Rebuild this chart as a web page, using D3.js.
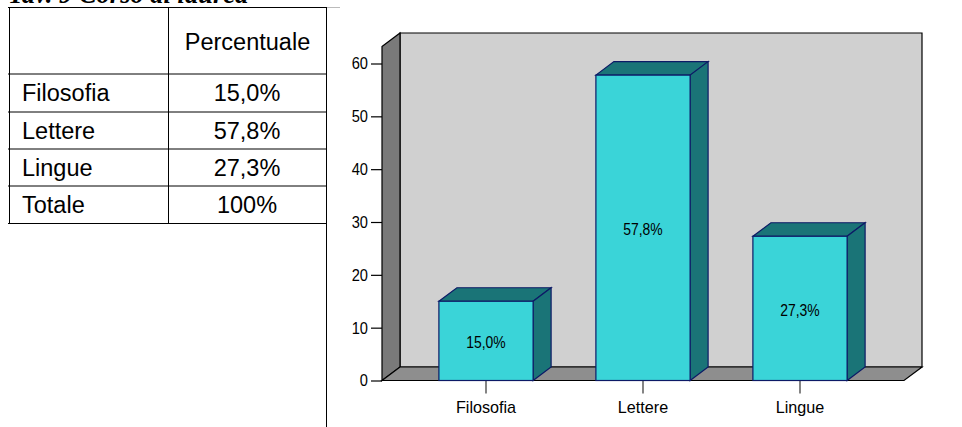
<!DOCTYPE html>
<html><head><meta charset="utf-8">
<script src="https://cdn.jsdelivr.net/npm/d3@7"></script>
<style>html,body{margin:0;padding:0;background:#fff}svg{display:block}text{font-family:"Liberation Sans",Arial,sans-serif;fill:#000}</style>
</head><body><svg id="c" width="962" height="427"></svg>
<script>
const categories = ["Filosofia","Lettere","Lingue"];
const values = [15.0,57.8,27.3];
const valueLabels = ["15,0%","57,8%","27,3%"];
const yTicks = [0,10,20,30,40,50,60];
const tableHeader = ["","Percentuale"];
const tableRows = [["Filosofia","15,0%"],["Lettere","57,8%"],["Lingue","27,3%"],["Totale","100%"]];
const title = "Tav. 9 Corso di laurea";

const svg = d3.select("#c");
const dx=18, dy=13.5;
const y = d3.scaleLinear().domain([0,60]).range([380.5,63.5]);
const x = d3.scaleBand().domain(categories).range([407.5,878.5]).paddingInner(0.4).paddingOuter(0.2);
const L=382, R=904, B=y(0), T=46.5;
const path = p => "M"+p.map(a=>a.join(",")).join("L")+"Z";

// Table
svg.append("text").attr("x",8).attr("y",3).attr("font-size",26.5).attr("font-style","italic").attr("font-weight","bold").style("font-family","Liberation Serif").text(title);
const rowY=[7.5,74,112,149,186,223.5];
const tl = svg.append("g").attr("stroke","#000").attr("stroke-width",1);
rowY.forEach(v=>tl.append("line").attr("x1",8).attr("x2",327).attr("y1",v).attr("y2",v));
tl.append("line").attr("x1",9.5).attr("x2",9.5).attr("y1",7).attr("y2",224);
tl.append("line").attr("x1",168.5).attr("x2",168.5).attr("y1",7).attr("y2",224);
tl.append("line").attr("x1",326.5).attr("x2",326.5).attr("y1",7).attr("y2",427);
svg.append("line").attr("x1",327).attr("x2",340).attr("y1",7.5).attr("y2",7.5).attr("stroke","#bbb");
svg.append("text").attr("x",247.5).attr("y",50).attr("text-anchor","middle").attr("font-size",23.5).text(tableHeader[1]);
const baselines=[101,139,176,213];
tableRows.forEach((r,i)=>{
  svg.append("text").attr("x",22).attr("y",baselines[i]).attr("font-size",23.5).text(r[0]);
  svg.append("text").attr("x",247).attr("y",baselines[i]).attr("text-anchor","middle").attr("font-size",23.5).text(r[1]);
});

// 3D walls
const K="#000";
svg.append("path").attr("d",path([[L+dx,T-dy],[R+dx,T-dy],[R+dx,B-dy],[L+dx,B-dy]])).attr("fill","#d0d0d0").attr("stroke",K).attr("stroke-width",1.2);
svg.append("path").attr("d",path([[L,T],[L+dx,T-dy],[L+dx,B-dy],[L,B]])).attr("fill","#7a7a7a").attr("stroke",K).attr("stroke-width",1.2);
svg.append("path").attr("d",path([[L,B],[L+dx,B-dy],[R+dx,B-dy],[R,B]])).attr("fill","#8e8e8e").attr("stroke",K).attr("stroke-width",1.2);

// Condense label glyphs to the reference's narrow setting
const narrow = (sel,fs,ratio)=>sel.attr("font-size",fs).each(function(){
  const n=this.getComputedTextLength();
  d3.select(this).attr("textLength",n*ratio).attr("lengthAdjust","spacingAndGlyphs");
});

// Axes
const yAxis = d3.axisLeft(y).tickValues(yTicks).tickSize(11).tickPadding(3).tickFormat(d3.format("d"));
const ga = svg.append("g").attr("transform",`translate(${L},0)`).call(yAxis);
ga.select(".domain").remove();
narrow(ga.selectAll("text"),17,0.86);
ga.selectAll("line").attr("stroke",K).attr("stroke-width",1.2);
const xAxis = d3.axisBottom(x).tickSize(13).tickPadding(7);
const gx = svg.append("g").attr("transform",`translate(0,${B})`).call(xAxis);
gx.select(".domain").remove();
narrow(gx.selectAll("text"),17,0.95);
gx.selectAll("line").attr("stroke","#333").attr("stroke-width",1.2);

// Bars
const E="#0c1a66";
const bars = svg.append("g").selectAll("g").data(categories.map((c,i)=>({c,v:values[i],l:valueLabels[i]}))).join("g");
bars.append("path").attr("d",d=>{const a=x(d.c),b=a+x.bandwidth(),t=y(d.v);return path([[a,t],[a+dx,t-dy],[b+dx,t-dy],[b,t]]);}).attr("fill","#1a7477").attr("stroke",E).attr("stroke-width",1.2);
bars.append("path").attr("d",d=>{const b=x(d.c)+x.bandwidth(),t=y(d.v);return path([[b,t],[b+dx,t-dy],[b+dx,B-dy],[b,B]]);}).attr("fill","#1a7477").attr("stroke",E).attr("stroke-width",1.2);
bars.append("rect").attr("x",d=>x(d.c)).attr("y",d=>y(d.v)).attr("width",x.bandwidth()).attr("height",d=>B-y(d.v)).attr("fill","#3ad4d8").attr("stroke",E).attr("stroke-width",1.2);
const vl = bars.append("text").attr("x",d=>x(d.c)+x.bandwidth()/2).attr("y",d=>(y(d.v)+B)/2+7.5).attr("text-anchor","middle").text(d=>d.l);
narrow(vl,16,0.87);
</script></body></html>
